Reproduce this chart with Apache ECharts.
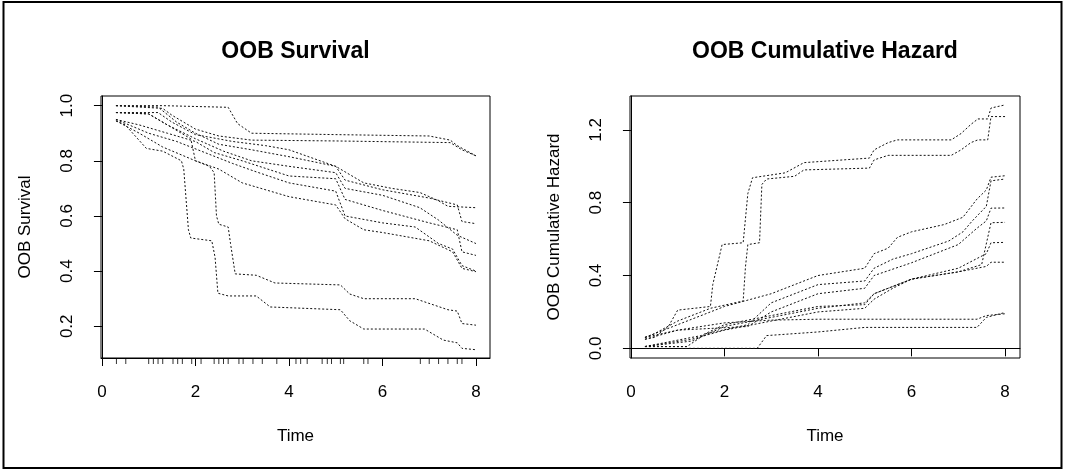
<!DOCTYPE html>
<html><head><meta charset="utf-8">
<script src="https://cdn.jsdelivr.net/npm/echarts@6/dist/echarts.min.js"></script>
<style>html,body{margin:0;padding:0;background:#fff}#c{width:1066px;height:471px}</style>
</head><body><div id="c"></div>
<script>
// ---- data ----
const xTicks = [0, 2, 4, 6, 8];
const survTicks = [0.2, 0.4, 0.6, 0.8, 1.0];
const hazTicks = [0.0, 0.4, 0.8, 1.2];
const rugTimes = [0.31,0.51,1.0,1.1,1.2,1.3,1.52,1.62,1.72,1.92,2.12,2.4,2.5,2.6,2.7,2.93,3.02,3.23,3.43,3.74,4.15,4.25,4.39,4.71,4.82,4.91,5.1,5.17,5.6,5.69,6.81,7.0,7.2,7.4,7.6,7.7];

// OOB survival curves [time, survival]
const surv1 = [[0.3,1.0],[1.3,1.0],[2.7,0.994],[2.9,0.935],[3.2,0.90],[5.0,0.895],[7.0,0.89],[7.45,0.875],[7.6,0.855],[8.0,0.818]];
const surv2 = [[0.3,1.0],[1.3,0.99],[1.5,0.965],[2.0,0.915],[2.5,0.89],[3.2,0.875],[5.0,0.872],[7.45,0.866],[7.7,0.84],[8.0,0.818]];
const surv3 = [[0.3,0.975],[1.2,0.975],[1.5,0.94],[2.0,0.895],[2.8,0.87],[3.5,0.855],[4.0,0.84],[5.0,0.78],[5.2,0.76],[5.6,0.72],[6.2,0.70],[6.8,0.685],[7.2,0.655],[7.4,0.635],[8.0,0.63]];
const surv4 = [[0.3,1.0],[1.2,0.995],[1.6,0.94],[2.0,0.90],[2.5,0.86],[3.2,0.84],[4.0,0.815],[5.0,0.78],[5.2,0.73],[6.0,0.695],[7.0,0.665],[7.6,0.64],[7.7,0.58],[8.0,0.572]];
const surv5 = [[0.3,0.975],[1.0,0.97],[1.4,0.93],[2.0,0.88],[2.6,0.835],[3.2,0.80],[4.0,0.78],[5.0,0.757],[5.2,0.70],[6.0,0.675],[6.8,0.63],[7.2,0.585],[7.6,0.53],[8.0,0.50]];
const surv6 = [[0.3,0.95],[0.8,0.93],[1.4,0.90],[2.0,0.87],[2.4,0.83],[3.0,0.80],[4.0,0.745],[5.0,0.735],[5.2,0.66],[6.0,0.62],[7.0,0.575],[7.6,0.55],[7.7,0.47],[8.0,0.457]];
const surv7 = [[0.3,0.95],[1.0,0.90],[1.6,0.87],[2.2,0.83],[2.8,0.79],[3.3,0.76],[4.0,0.72],[5.0,0.69],[5.2,0.60],[6.0,0.575],[6.7,0.56],[7.2,0.50],[7.5,0.48],[7.7,0.42],[8.0,0.40]];
const surv8 = [[0.3,0.945],[0.8,0.90],[1.3,0.85],[2.0,0.80],[2.5,0.77],[3.0,0.72],[3.6,0.69],[4.0,0.67],[5.0,0.64],[5.2,0.59],[5.6,0.55],[6.0,0.54],[7.0,0.51],[7.5,0.47],[7.7,0.41],[8.0,0.398]];
const surv9 = [[0.3,0.945],[0.5,0.93],[0.95,0.845],[1.3,0.835],[1.7,0.80],[1.75,0.77],[1.85,0.55],[1.9,0.52],[2.35,0.51],[2.42,0.45],[2.48,0.32],[2.7,0.31],[3.3,0.31],[3.6,0.27],[5.1,0.26],[5.3,0.22],[5.6,0.19],[6.9,0.19],[7.3,0.15],[7.6,0.14],[7.7,0.12],[8.0,0.115]];
const surv10 = [[0.3,0.975],[1.0,0.97],[1.5,0.92],[1.9,0.88],[2.0,0.80],[2.3,0.78],[2.4,0.757],[2.45,0.60],[2.5,0.57],[2.7,0.56],[2.75,0.50],[2.85,0.39],[3.3,0.385],[3.7,0.357],[5.1,0.35],[5.3,0.317],[5.6,0.30],[6.7,0.30],[7.4,0.26],[7.6,0.255],[7.7,0.21],[8.0,0.204]];

// OOB cumulative hazard curves [time, hazard]
const haz1 = [[0.3,0.05],[0.5,0.06],[0.8,0.12],[1.0,0.21],[1.7,0.23],[1.75,0.35],[1.95,0.57],[2.4,0.58],[2.5,0.85],[2.6,0.937],[3.3,0.964],[3.7,1.02],[5.1,1.045],[5.2,1.09],[5.5,1.13],[5.7,1.145],[6.85,1.145],[7.06,1.18],[7.27,1.23],[7.42,1.26],[7.63,1.26],[7.7,1.32],[8.0,1.337]];
const haz2 = [[0.3,0.06],[0.5,0.08],[1.0,0.15],[1.7,0.22],[2.4,0.26],[2.45,0.45],[2.5,0.57],[2.75,0.58],[2.8,0.9],[2.9,0.93],[3.5,0.945],[3.7,0.98],[5.1,0.99],[5.2,1.035],[5.5,1.06],[6.85,1.06],[7.06,1.09],[7.27,1.13],[7.42,1.145],[7.63,1.145],[7.7,1.273],[8.0,1.273]];
const haz3 = [[0.3,0.06],[1.0,0.13],[2.0,0.23],[3.0,0.30],[4.0,0.40],[5.0,0.44],[5.2,0.52],[5.5,0.55],[5.7,0.61],[6.0,0.64],[6.7,0.68],[7.1,0.72],[7.4,0.82],[7.6,0.87],[7.7,0.94],[8.0,0.948]];
const haz4 = [[0.3,0.01],[1.2,0.01],[1.6,0.08],[2.5,0.13],[3.0,0.25],[4.0,0.35],[5.0,0.37],[5.2,0.44],[5.6,0.49],[6.0,0.52],[6.8,0.59],[7.1,0.64],[7.3,0.70],[7.6,0.78],[7.7,0.92],[8.0,0.93]];
const haz5 = [[0.3,0.05],[1.0,0.10],[2.5,0.12],[3.0,0.2],[4.0,0.30],[5.0,0.33],[5.2,0.40],[6.0,0.47],[7.0,0.57],[7.4,0.66],[7.6,0.70],[7.7,0.77],[8.0,0.771]];
const haz6 = [[0.3,0.01],[1.5,0.07],[2.0,0.13],[3.0,0.18],[4.0,0.23],[5.0,0.24],[5.2,0.30],[6.0,0.38],[7.0,0.42],[7.5,0.46],[7.7,0.69],[8.0,0.692]];
const haz7 = [[0.3,0.01],[1.3,0.04],[2.0,0.12],[3.0,0.17],[4.0,0.22],[5.0,0.25],[5.2,0.30],[6.0,0.38],[7.0,0.44],[7.6,0.52],[7.7,0.58],[8.0,0.582]];
const haz8 = [[0.3,0.01],[1.3,0.05],[2.0,0.10],[3.0,0.15],[4.0,0.20],[5.0,0.22],[5.2,0.27],[5.6,0.33],[6.0,0.38],[7.0,0.42],[7.6,0.45],[7.7,0.473],[8.0,0.473]];
const haz9 = [[0.3,0.0],[2.7,0.0],[2.9,0.07],[4.0,0.09],[5.0,0.115],[7.4,0.115],[7.6,0.17],[8.0,0.197]];
const haz10 = [[0.3,0.06],[1.0,0.10],[2.0,0.14],[3.0,0.155],[4.0,0.16],[7.4,0.16],[7.6,0.18],[8.0,0.19]];

const survCurves = [surv1,surv2,surv3,surv4,surv5,surv6,surv7,surv8,surv9,surv10];
const hazCurves = [haz1,haz2,haz3,haz4,haz5,haz6,haz7,haz8,haz9,haz10];

// ---- chart ----
const FONT = 'Liberation Sans, Arial, sans-serif';
const lineStyle = {color: '#111', width: 1, type: [2, 2]};
const series = [];
survCurves.forEach(d => series.push({type:'line', xAxisIndex:0, yAxisIndex:0, data:d, showSymbol:false, lineStyle, silent:true}));
hazCurves.forEach(d => series.push({type:'line', xAxisIndex:1, yAxisIndex:1, data:d, showSymbol:false, lineStyle, silent:true}));
const survMin = 0.085, survMax = 1.035, hazMin = -0.053, hazMax = 1.386;
series.push({type:'scatter', xAxisIndex:0, yAxisIndex:0, clip:false, silent:true,
  data: rugTimes.map(t => [t, survMin]), symbol:'rect', symbolSize:[1,6], symbolOffset:[0,3],
  itemStyle:{color:'#000'}});

function xAxisDef(idx, min, max) {
  return {type:'value', gridIndex:idx, min, max, splitLine:{show:false},
    axisLine:{show:true, lineStyle:{color:'#000'}},
    axisTick:{show:true, customValues:xTicks, length:8, lineStyle:{color:'#000'}},
    axisLabel:{customValues:xTicks, margin:26, fontSize:17, color:'#000', fontFamily:FONT},
    name:'Time', nameLocation:'middle', nameGap:70,
    nameTextStyle:{fontSize:17, color:'#000', fontFamily:FONT}};
}
function yAxisDef(idx, min, max, ticks, name) {
  return {type:'value', gridIndex:idx, min, max, splitLine:{show:false},
    axisLine:{show:true, lineStyle:{color:'#000'}},
    axisTick:{show:true, customValues:ticks, length:8, lineStyle:{color:'#000'}},
    axisLabel:{customValues:ticks, rotate:90, margin:25, fontSize:17, color:'#000', fontFamily:FONT,
      formatter: v => Number(v).toFixed(1)},
    name, nameLocation:'middle', nameRotate:90, nameGap:67,
    nameTextStyle:{fontSize:17, color:'#000', fontFamily:FONT}};
}

const chart = echarts.init(document.getElementById('c'), null, {renderer:'canvas'});
chart.setOption({
  animation:false,
  backgroundColor:'#fff',
  title:[
    {text:'OOB Survival', left:295.5, top:40, textAlign:'center', padding:0,
     textStyle:{fontSize:23, fontWeight:'bold', color:'#000', fontFamily:FONT}},
    {text:'OOB Cumulative Hazard', left:825, top:40, textAlign:'center', padding:0,
     textStyle:{fontSize:23, fontWeight:'bold', color:'#000', fontFamily:FONT}}
  ],
  grid:[
    {left:101, top:96, width:389, height:262, show:true, borderColor:'#000', borderWidth:1, backgroundColor:'transparent'},
    {left:630, top:96, width:390, height:262, show:true, borderColor:'#000', borderWidth:1, backgroundColor:'transparent'}
  ],
  xAxis:[xAxisDef(0,-0.02,8.3), xAxisDef(1,-0.02,8.32)],
  yAxis:[yAxisDef(0,survMin,survMax,survTicks,'OOB Survival'), yAxisDef(1,hazMin,hazMax,hazTicks,'OOB Cumulative Hazard')],
  series,
  graphic:[{type:'rect', shape:{x:3.5, y:2, width:1058, height:466}, style:{fill:'none', stroke:'#000', lineWidth:2}, silent:true}]
});
</script></body></html>
